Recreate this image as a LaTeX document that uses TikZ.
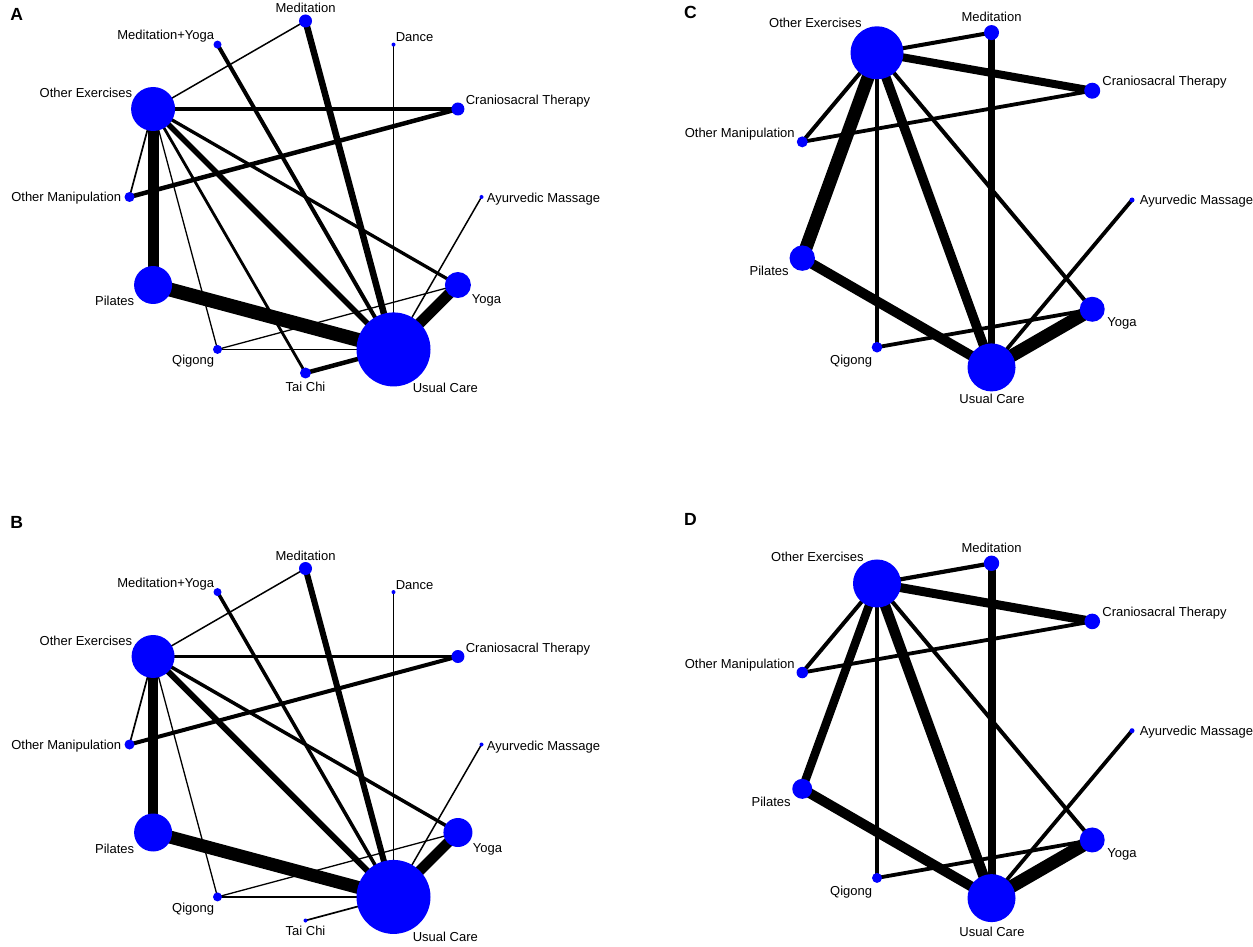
\documentclass[tikz,border=0pt]{standalone}
\usepackage{fontspec}
\setmainfont{Liberation Sans}
\usepackage{tikz}
\usetikzlibrary{backgrounds}

\begin{document}
\begin{tikzpicture}[
  x=0.2mm, y=0.2mm,
  nd/.style={circle, fill=blue, inner sep=0pt, minimum size=#1*0.4mm},
  ed/.style={line width=#1*0.2mm},
  lb/.style={font=\fontsize{7.4}{9}\selectfont, inner sep=0pt, text height=5.4pt, text depth=0pt},
  ttl/.style={font=\fontsize{10}{12}\selectfont\bfseries, inner sep=0pt}
]
\useasboundingbox (0,0) rectangle (1253,946);
\node[ttl] (ta) at (16.6,932) {A};
\node[ttl] (tb) at (16.6,423.3) {B};
\node[ttl] (tc) at (690.5,933.3) {C};
\node[ttl] (td) at (690.5,427) {D};
\begin{scope}[shift={(305.5,749)}]
  \node[nd=2]   (aayu) at (0:176) {};
  \node[nd=6.5] (acra) at (30:176) {};
  \node[nd=2]   (adan) at (60:176) {};
  \node[nd=6.5] (amed) at (90:176) {};
  \node[nd=4]   (amey) at (120:176) {};
  \node[nd=22]  (aoex) at (150:176) {};
  \node[nd=5]   (aoma) at (180:176) {};
  \node[nd=19]  (apil) at (210:176) {};
  \node[nd=4.5] (aqig) at (240:176) {};
  \node[nd=5.5] (atai) at (270:176) {};
  \node[nd=37]  (ausu) at (300:176) {};
  \node[nd=13]  (ayog) at (330:176) {};
  \node[lb, anchor=south] (amedl) at (0,184) {Meditation};
  \node[lb, anchor=east] (ameyl) at (-91,162) {Meditation+Yoga};
  \node[lb, anchor=west] (adanl) at (90,160) {Dance};
  \node[lb, anchor=east] (aoexl) at (-173,104) {Other Exercises};
  \node[lb, anchor=west] (acral) at (160,97) {Craniosacral Therapy};
  \node[lb, anchor=east] (aomal) at (-184,0) {Other Manipulation};
  \node[lb, anchor=west] (aayul) at (181,-1) {Ayurvedic Massage};
  \node[lb, anchor=east] (apill) at (-171,-104) {Pilates};
  \node[lb, anchor=west] (ayogl) at (166,-102) {Yoga};
  \node[lb, anchor=east] (aqigl) at (-91,-163) {Qigong};
  \node[lb] (atail) at (0,-190) {Tai Chi};
  \node[lb, anchor=west] (ausul) at (107,-191) {Usual Care};
  \begin{pgfonlayer}{background}
  \draw[ed=1.5] (aoex.center) -- (amed.center);
  \draw[ed=3.3] (aoex.center) -- (acra.center);
  \draw[ed=1.7] (aoex.center) -- (aoma.center);
  \draw[ed=11]  (aoex.center) -- (apil.center);
  \draw[ed=1.3] (aoex.center) -- (aqig.center);
  \draw[ed=2.8] (aoex.center) -- (atai.center);
  \draw[ed=5.5] (aoex.center) -- (ausu.center);
  \draw[ed=3.3] (aoex.center) -- (ayog.center);
  \draw[ed=4]   (amey.center) -- (ausu.center);
  \draw[ed=6.5] (amed.center) -- (ausu.center);
  \draw[ed=1]   (adan.center) -- (ausu.center);
  \draw[ed=1.5] (aayu.center) -- (ausu.center);
  \draw[ed=4.5] (acra.center) -- (aoma.center);
  \draw[ed=14]  (apil.center) -- (ausu.center);
  \draw[ed=11]  (ayog.center) -- (ausu.center);
  \draw[ed=1.3] (aqig.center) -- (ayog.center);
  \draw[ed=1.6] (aqig.center) -- (ausu.center);
  \draw[ed=4.5] (atai.center) -- (ausu.center);
  \end{pgfonlayer}
\end{scope}
\begin{scope}[shift={(305.5,201.5)}]
  \node[nd=2]    (bayu) at (0:176) {};
  \node[nd=6.5]  (bcra) at (30:176) {};
  \node[nd=2]    (bdan) at (60:176) {};
  \node[nd=6.5]  (bmed) at (90:176) {};
  \node[nd=4]    (bmey) at (120:176) {};
  \node[nd=21.5] (boex) at (150:176) {};
  \node[nd=5]    (boma) at (180:176) {};
  \node[nd=19]   (bpil) at (210:176) {};
  \node[nd=4.5]  (bqig) at (240:176) {};
  \node[nd=2]    (btai) at (270:176) {};
  \node[nd=37]   (busu) at (300:176) {};
  \node[nd=14.5] (byog) at (330:176) {};
  \node[lb, anchor=south] (bmedl) at (0,184) {Meditation};
  \node[lb, anchor=east] (bmeyl) at (-91,162) {Meditation+Yoga};
  \node[lb, anchor=west] (bdanl) at (90,160) {Dance};
  \node[lb, anchor=east] (boexl) at (-173,104) {Other Exercises};
  \node[lb, anchor=west] (bcral) at (160,97) {Craniosacral Therapy};
  \node[lb, anchor=east] (bomal) at (-184,0) {Other Manipulation};
  \node[lb, anchor=west] (bayul) at (181,-1) {Ayurvedic Massage};
  \node[lb, anchor=east] (bpill) at (-171,-104) {Pilates};
  \node[lb, anchor=west] (byogl) at (167,-103) {Yoga};
  \node[lb, anchor=east] (bqigl) at (-91,-163) {Qigong};
  \node[lb] (btail) at (0,-186) {Tai Chi};
  \node[lb, anchor=west] (busul) at (107,-192) {Usual Care};
  \begin{pgfonlayer}{background}
  \draw[ed=1.5] (boex.center) -- (bmed.center);
  \draw[ed=3.3] (boex.center) -- (bcra.center);
  \draw[ed=1.7] (boex.center) -- (boma.center);
  \draw[ed=10]  (boex.center) -- (bpil.center);
  \draw[ed=1.3] (boex.center) -- (bqig.center);
  \draw[ed=6]   (boex.center) -- (busu.center);
  \draw[ed=3.5] (boex.center) -- (byog.center);
  \draw[ed=3.5] (bmey.center) -- (busu.center);
  \draw[ed=6]   (bmed.center) -- (busu.center);
  \draw[ed=1]   (bdan.center) -- (busu.center);
  \draw[ed=1.5] (bayu.center) -- (busu.center);
  \draw[ed=4]   (bcra.center) -- (boma.center);
  \draw[ed=13]  (bpil.center) -- (busu.center);
  \draw[ed=10.5] (byog.center) -- (busu.center);
  \draw[ed=1.3] (bqig.center) -- (byog.center);
  \draw[ed=1.7] (bqig.center) -- (busu.center);
  \draw[ed=1.7] (btai.center) -- (busu.center);
  \end{pgfonlayer}
\end{scope}
\begin{scope}[shift={(962,746)}]
  \node[nd=2.5]  (cayu) at (0:170) {};
  \node[nd=8]    (ccra) at (40:170) {};
  \node[nd=7.5]  (cmed) at (80:170) {};
  \node[nd=26.5] (coex) at (120:170) {};
  \node[nd=5.5]  (coma) at (160:170) {};
  \node[nd=12.7] (cpil) at (200:170) {};
  \node[nd=5.3]  (cqig) at (240:170) {};
  \node[nd=24]   (cusu) at (280:170) {};
  \node[nd=12.5] (cyog) at (320:170) {};
  \node[lb, anchor=south] (cmedl) at (29.5,178) {Meditation};
  \node[lb, anchor=east] (coexl) at (-100,177) {Other Exercises};
  \node[lb, anchor=west] (ccral) at (140,119) {Craniosacral Therapy};
  \node[lb, anchor=east] (comal) at (-167,67) {Other Manipulation};
  \node[lb, anchor=west] (cayul) at (177.5,0) {Ayurvedic Massage};
  \node[lb, anchor=east] (cpill) at (-173,-71) {Pilates};
  \node[lb, anchor=west] (cyogl) at (145,-122) {Yoga};
  \node[lb, anchor=east] (cqigl) at (-89.5,-160) {Qigong};
  \node[lb] (cusul) at (30,-199) {Usual Care};
  \begin{pgfonlayer}{background}
  \draw[ed=4]   (coex.center) -- (cmed.center);
  \draw[ed=8]   (coex.center) -- (ccra.center);
  \draw[ed=4]   (coex.center) -- (coma.center);
  \draw[ed=13]  (coex.center) -- (cpil.center);
  \draw[ed=3.5] (coex.center) -- (cqig.center);
  \draw[ed=9.5] (coex.center) -- (cusu.center);
  \draw[ed=4]   (coex.center) -- (cyog.center);
  \draw[ed=7.5] (cmed.center) -- (cusu.center);
  \draw[ed=3.8] (ccra.center) -- (coma.center);
  \draw[ed=3.8] (cayu.center) -- (cusu.center);
  \draw[ed=10]  (cpil.center) -- (cusu.center);
  \draw[ed=13]  (cyog.center) -- (cusu.center);
  \draw[ed=3.8] (cqig.center) -- (cyog.center);
  \end{pgfonlayer}
\end{scope}
\begin{scope}[shift={(962,215.3)}]
  \node[nd=2.5]  (dayu) at (0:170) {};
  \node[nd=7.8]  (dcra) at (40:170) {};
  \node[nd=7.7]  (dmed) at (80:170) {};
  \node[nd=24]   (doex) at (120:170) {};
  \node[nd=5.7]  (doma) at (160:170) {};
  \node[nd=10]   (dpil) at (200:170) {};
  \node[nd=5]    (dqig) at (240:170) {};
  \node[nd=24]   (dusu) at (280:170) {};
  \node[nd=12.5] (dyog) at (320:170) {};
  \node[lb, anchor=south] (dmedl) at (29.5,178) {Meditation};
  \node[lb, anchor=east] (doexl) at (-98,174) {Other Exercises};
  \node[lb, anchor=west] (dcral) at (140,119) {Craniosacral Therapy};
  \node[lb, anchor=east] (domal) at (-167,67) {Other Manipulation};
  \node[lb, anchor=west] (dayul) at (177.5,0) {Ayurvedic Massage};
  \node[lb, anchor=east] (dpill) at (-171,-71) {Pilates};
  \node[lb, anchor=west] (dyogl) at (145,-122) {Yoga};
  \node[lb, anchor=east] (dqigl) at (-89.5,-160) {Qigong};
  \node[lb] (dusul) at (30,-201) {Usual Care};
  \begin{pgfonlayer}{background}
  \draw[ed=4.2] (doex.center) -- (dmed.center);
  \draw[ed=9]   (doex.center) -- (dcra.center);
  \draw[ed=4]   (doex.center) -- (doma.center);
  \draw[ed=8.5] (doex.center) -- (dpil.center);
  \draw[ed=3.5] (doex.center) -- (dqig.center);
  \draw[ed=10.5] (doex.center) -- (dusu.center);
  \draw[ed=4]   (doex.center) -- (dyog.center);
  \draw[ed=8]   (dmed.center) -- (dusu.center);
  \draw[ed=3.8] (dcra.center) -- (doma.center);
  \draw[ed=3.8] (dayu.center) -- (dusu.center);
  \draw[ed=10]  (dpil.center) -- (dusu.center);
  \draw[ed=13]  (dyog.center) -- (dusu.center);
  \draw[ed=3.8] (dqig.center) -- (dyog.center);
  \end{pgfonlayer}
\end{scope}
\end{tikzpicture}
\end{document}
